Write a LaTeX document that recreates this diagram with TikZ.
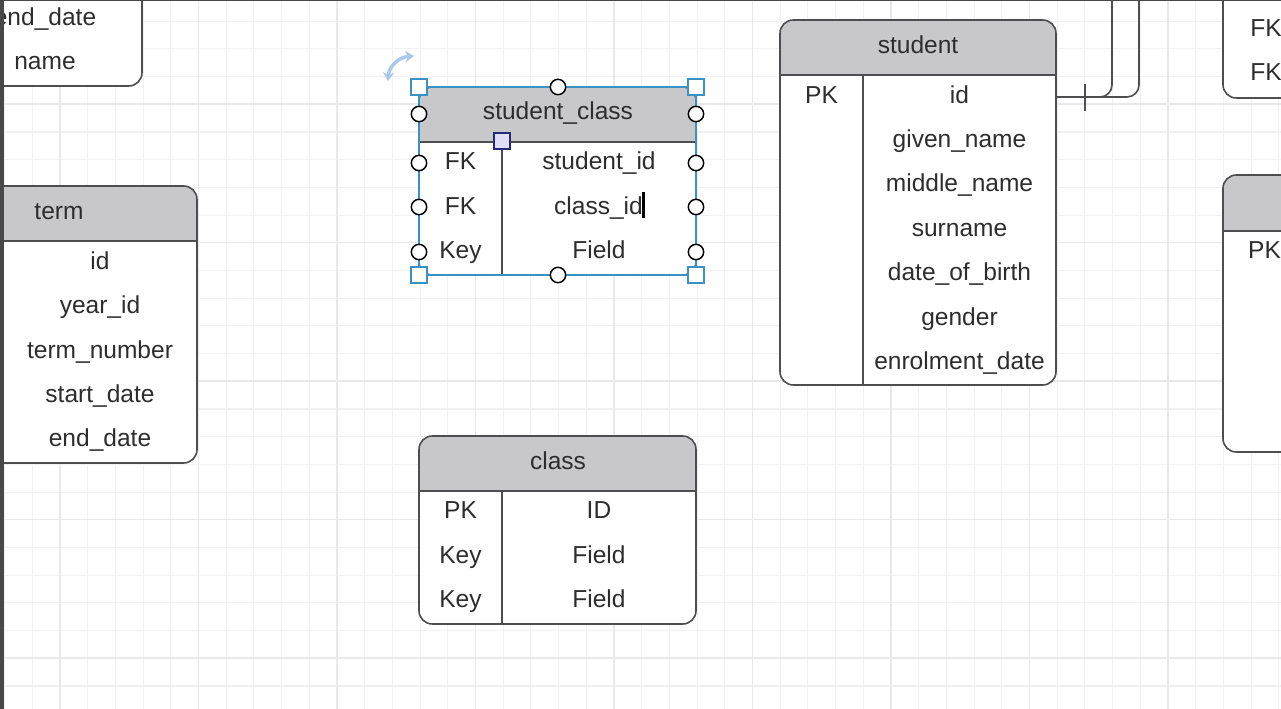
\documentclass[tikz,border=0pt]{standalone}
\usepackage{fontspec}
\setmainfont{Liberation Sans}
\usetikzlibrary{arrows.meta}
\definecolor{hdr}{RGB}{200,199,202}
\definecolor{lnc}{RGB}{78,78,80}
\definecolor{txt}{RGB}{45,45,45}
\definecolor{selb}{RGB}{58,146,196}
\definecolor{gridc}{RGB}{241,241,243}
\definecolor{gridm}{RGB}{233,233,236}
\definecolor{rotc}{RGB}{168,200,236}
\definecolor{navy}{RGB}{40,40,120}
\definecolor{lav}{RGB}{222,222,245}
\definecolor{framec}{RGB}{72,72,72}
% x1,y1,x2,y2,header bottom,divider x
\newcommand\erbox[6]{%
  \fill[white,rounded corners=10] (#1,#2) rectangle (#3,#4);
  \begin{scope}
    \clip[rounded corners=10] (#1,#2) rectangle (#3,#4);
    \fill[hdr] (#1,#2) rectangle (#3,#5);
  \end{scope}
  \draw[tbl,rounded corners=10] (#1,#2) rectangle (#3,#4);
  \draw[tbl] (#1,#5) -- (#3,#5);
  \draw[tbl] (#6,#5) -- (#6,#4);}
\begin{document}
\begin{tikzpicture}[x=0.75pt,y=-0.75pt,
  tbl/.style={draw=lnc,line width=1.2pt},
  lbl/.style={text=txt,font=\fontsize{18.4}{22}\selectfont,anchor=base,inner sep=0pt},
  sqh/.style={draw=selb,fill=white,line width=1.1pt,minimum size=12pt,inner sep=0pt,rectangle},
  cih/.style={draw=black,fill=white,line width=1.1pt,minimum size=11.5pt,inner sep=0pt,circle},
  conn/.style={draw=lnc,line width=1.2pt,rounded corners=9}]
\useasboundingbox (0,0) rectangle (1281,709);
\clip (0,0) rectangle (1281,709);
\fill[white] (0,0) rectangle (1281,709);
% grid
\foreach \i in {0,...,46} {\draw[gridc,line width=0.8pt] ({4.6+27.7*\i},0) -- ({4.6+27.7*\i},709);}
\foreach \j in {-1,...,25} {\draw[gridc,line width=0.8pt] (0,{21.2+27.7*\j}) -- (1281,{21.2+27.7*\j});}
\foreach \i in {0,...,9} {\draw[gridm,line width=0.8pt] ({60+138.5*\i},0) -- ({60+138.5*\i},709);}
\foreach \j in {0,...,4} {\draw[gridm,line width=0.8pt] (0,{104+138.5*\j}) -- (1281,{104+138.5*\j});}

% connectors from student.id
\coordinate (sidE) at (1056,97);
\coordinate (upA) at (1112,-10);
\coordinate (upB) at (1139,-10);
\draw[conn] (sidE) -| (upA);
\draw[conn] (sidE) -| (upB);
\draw[tbl] (1085,84) -- (1085,111);

% top-left partial table
\erbox{-60}{-100}{142}{86}{-60}{-60}
\node[lbl] (tl-end) at (45,25.3) {end\_date};
\node[lbl] (tl-name) at (45,69.3) {name};

% term
\erbox{-79}{186}{197}{463}{241}{3}
\node[lbl] (term-h) at (59,219.3) {term};
\node[lbl] (term-1) at (100,269.3) {id};
\node[lbl] (term-2) at (100,313.3) {year\_id};
\node[lbl] (term-3) at (100,358.3) {term\_number};
\node[lbl] (term-4) at (100,402.3) {start\_date};
\node[lbl] (term-5) at (100,446.3) {end\_date};

% student
\erbox{780}{20}{1056}{385}{75}{863}
\node[lbl] (stu-h) at (918,53.3) {student};
\node[lbl] (stu-k1) at (821.5,103.3) {PK};
\node[lbl] (stu-1) at (959.5,103.3) {id};
\node[lbl] (stu-2) at (959.5,147.3) {given\_name};
\node[lbl] (stu-3) at (959.5,191.3) {middle\_name};
\node[lbl] (stu-4) at (959.5,236.3) {surname};
\node[lbl] (stu-5) at (959.5,280.3) {date\_of\_birth};
\node[lbl] (stu-6) at (959.5,325.3) {gender};
\node[lbl] (stu-7) at (959.5,369.3) {enrolment\_date};

% class
\erbox{419}{436}{696}{624}{491}{502}
\node[lbl] (cl-h) at (558,469.3) {class};
\node[lbl] (cl-k1) at (460.5,518.3) {PK};
\node[lbl] (cl-1) at (599,518.3) {ID};
\node[lbl] (cl-k2) at (460.5,563.3) {Key};
\node[lbl] (cl-2) at (599,563.3) {Field};
\node[lbl] (cl-k3) at (460.5,607.3) {Key};
\node[lbl] (cl-3) at (599,607.3) {Field};

% right partial tables
\erbox{1223}{-100}{1420}{98}{-60}{1310}
\node[lbl] (rt-k1) at (1266,36.3) {FK};
\node[lbl] (rt-k2) at (1266,80.3) {FK};
\erbox{1223}{175}{1420}{452}{231}{1310}
\node[lbl] (rm-k1) at (1264.5,258.3) {PK};

% student_class (selected)
\erbox{419}{87}{696}{275}{142}{502}
\draw[selb,line width=1.1pt] (419,87) rectangle (696,275);
\node[lbl] (sc-h) at (558,119.3) {student\_class};
\node[lbl] (sc-k1) at (460.5,169.3) {FK};
\node[lbl] (sc-1) at (599,169.3) {student\_id};
\node[lbl] (sc-k2) at (460.5,214.3) {FK};
\node[lbl] (sc-2) at (598.5,214.3) {class\_id};
\node[lbl] (sc-k3) at (460.5,258.3) {Key};
\node[lbl] (sc-3) at (599,258.3) {Field};
\fill[black] (642,192) rectangle (645,218);
% handles
\node[sqh] (h-tl) at (419,87) {};
\node[sqh] (h-tr) at (696,87) {};
\node[sqh] (h-bl) at (419,275) {};
\node[sqh] (h-br) at (696,275) {};
\node[cih] (c-t) at (558,87) {};
\node[cih] (c-b) at (558,275) {};
\foreach \yy/\nm in {114/1,163/2,207/3,252/4} {
  \node[cih] (c-l\nm) at (419,\yy) {};
  \node[cih] (c-r\nm) at (696,\yy) {};
}
\node[draw=navy,fill=lav,line width=1pt,minimum size=12pt,inner sep=0pt] (divh) at (502,141) {};
% rotation handle
\draw[rotc,line width=2.6pt,{Stealth[length=6.5pt,width=8.5pt]}-{Stealth[length=6.5pt,width=8.5pt]}]
  (388,81) .. controls (389,66) and (399,57) .. (414,56);

% screen frame
\fill[framec] (0,0) rectangle (3.5,709);
\fill[framec] (0,0) rectangle (1281,1.5);
\end{tikzpicture}
\end{document}
